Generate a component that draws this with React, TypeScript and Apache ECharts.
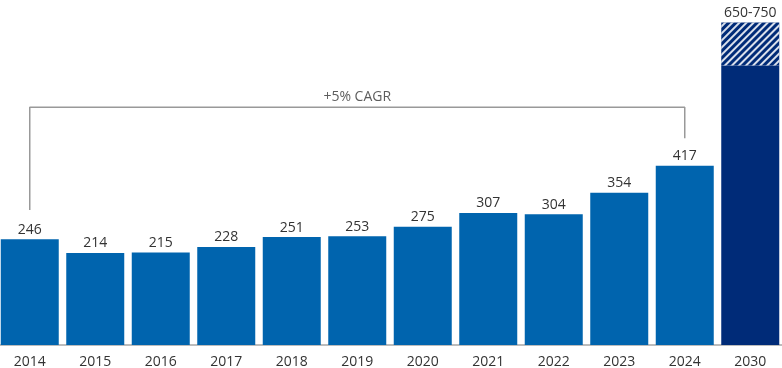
import React, { useEffect, useRef } from "react";
import * as echarts from "echarts";

const categories = ["2014", "2015", "2016", "2017", "2018", "2019", "2020", "2021", "2022", "2023", "2024", "2030"];
const actualValues = [246, 214, 215, 228, 251, 253, 275, 307, 304, 354, 417, 650];
const forecastRange = [null, null, null, null, null, null, null, null, null, null, null, 100];
const forecastLabel = "650-750";
const cagrLabel = "+5% CAGR";
const bracketPoints: [string, number][] = [
  ["2014", 314],
  ["2014", 553],
  ["2024", 553],
  ["2024", 481],
];
const cagrPoint: [string, number] = ["2019", 553];

const BLUE = "#0064AE";
const NAVY = "#002B78";
const FONT = "Open Sans";

export default function App() {
  const ref = useRef<HTMLDivElement>(null);
  useEffect(() => {
    if (!ref.current) return;
    const chart = echarts.init(ref.current, null, { renderer: "svg" });
    chart.setOption({
      animation: false,
      textStyle: { fontFamily: FONT },
      grid: { left: 0, right: 0, top: 1, bottom: 23, containLabel: false },
      xAxis: {
        type: "category",
        data: categories,
        axisLine: { show: true, lineStyle: { color: "#a6a6a6", width: 1.5 } },
        axisTick: { show: false },
        axisLabel: { color: "#333", fontSize: 14, fontFamily: FONT, margin: 8 },
      },
      yAxis: { type: "value", min: 0, max: 800, show: false, splitLine: { show: false } },
      series: [
        {
          type: "bar",
          stack: "total",
          barWidth: 58,
          data: actualValues.map((v, i) =>
            i === categories.length - 1
              ? { value: v, itemStyle: { color: NAVY }, label: { show: false } }
              : v
          ),
          itemStyle: { color: BLUE },
          label: { show: true, position: "top", distance: 4, color: "#333", fontSize: 14, fontFamily: FONT },
        },
        {
          type: "bar",
          stack: "total",
          barWidth: 58,
          data: forecastRange,
          itemStyle: {
            color: NAVY,
            decal: {
              symbol: "rect",
              symbolSize: 1,
              color: "rgba(255,255,255,0.85)",
              dashArrayX: [1, 0],
              dashArrayY: [1.5, 3],
              rotation: -Math.PI / 4,
            },
          },
          label: {
            show: true,
            position: "top",
            distance: 4,
            color: "#333",
            fontSize: 14,
            fontFamily: FONT,
            formatter: () => forecastLabel,
          },
        },
        {
          type: "line",
          data: bracketPoints,
          symbol: "none",
          lineStyle: { color: "#999", width: 1.5 },
          silent: true,
          z: 5,
        },
        {
          type: "scatter",
          data: [cagrPoint],
          symbolSize: 1,
          itemStyle: { color: "rgba(0,0,0,0)" },
          label: {
            show: true,
            position: "top",
            distance: 4,
            formatter: () => cagrLabel,
            color: "#333",
            fontSize: 14,
            fontFamily: FONT,
          },
          silent: true,
          z: 6,
        },
      ],
    });
    return () => chart.dispose();
  }, []);
  return <div ref={ref} style={{ position: "fixed", left: -2.75, top: 0, width: 786, height: 368 }} />;
}
